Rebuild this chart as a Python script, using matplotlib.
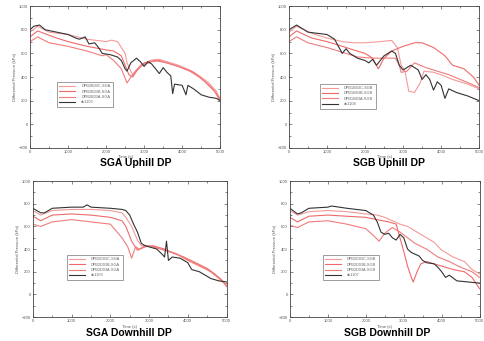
import numpy as np
import matplotlib.pyplot as plt
from matplotlib.ticker import MultipleLocator

plt.rcParams['font.family'] = ['Liberation Sans', 'DejaVu Sans']

# SGA Uphill DP
# ======================================================
ua_labels = ["DPB2B03C-SGA", "DPB2B03B-SGA", "DPB2B03A-SGA", "ds1103"]
ua_t1 = [0, 200, 500, 1000, 1500, 2000, 2150, 2300, 2400, 2500, 2550, 2650, 2700, 2900, 3200, 3400, 3600, 3900, 4200, 4500, 4700, 4900, 5000]
ua_v1 = [780, 830, 780, 760, 720, 700, 712, 700, 650, 600, 520, 450, 420, 500, 545, 550, 530, 500, 460, 400, 350, 280, 200]
ua_t2 = [0, 200, 700, 1000, 1500, 2000, 2200, 2400, 2500, 2600, 2700, 2800, 3000, 3300, 3600, 3900, 4300, 4600, 4850, 5000]
ua_v2 = [740, 790, 730, 700, 660, 630, 620, 580, 500, 420, 400, 450, 520, 540, 520, 490, 440, 360, 280, 200]
ua_t3 = [0, 200, 500, 1000, 1500, 1900, 2000, 2200, 2400, 2550, 2650, 2800, 2950, 3200, 3400, 3600, 3900, 4200, 4500, 4750, 5000]
ua_v3 = [700, 740, 690, 660, 620, 580, 590, 540, 470, 350, 400, 460, 500, 530, 540, 520, 490, 450, 390, 320, 220]
ua_t4 = [0, 100, 250, 400, 700, 1000, 1200, 1300, 1450, 1550, 1700, 1800, 1900, 2100, 2300, 2400, 2500, 2550, 2650, 2800, 2900, 3000, 3100, 3200, 3300, 3400, 3500, 3600, 3700, 3750, 3800, 4000, 4100, 4150, 4300, 4500, 4700, 4900, 5000]
ua_v4 = [800, 830, 840, 800, 780, 760, 730, 720, 740, 680, 690, 650, 600, 590, 570, 540, 470, 450, 520, 560, 530, 490, 530, 510, 470, 430, 480, 440, 410, 260, 340, 330, 250, 330, 300, 250, 230, 220, 200]

# SGB Uphill DP
# ======================================================
ub_labels = ["DPB1B03C-SGB", "DPB1B03B-SGB", "DPB1B03A-SGB", "ds1104"]
ub_t1 = [0, 200, 600, 1000, 1400, 1700, 2000, 2400, 2700, 2850, 2950, 3050, 3150, 3300, 3450, 3550, 3800, 4000, 4300, 4700, 5000]
ub_v1 = [780, 830, 770, 730, 700, 690, 690, 700, 710, 650, 500, 450, 280, 270, 350, 450, 440, 420, 380, 340, 300]
ub_t2 = [0, 200, 600, 1000, 1400, 1800, 2000, 2200, 2350, 2500, 2700, 3000, 3300, 3500, 3800, 4100, 4300, 4600, 4850, 5000]
ub_v2 = [740, 790, 730, 700, 660, 620, 600, 560, 470, 560, 620, 660, 690, 690, 650, 580, 500, 470, 400, 330]
ub_t3 = [0, 200, 500, 1000, 1400, 1800, 2200, 2600, 2800, 2900, 2950, 3100, 3300, 3600, 3900, 4200, 4500, 4800, 5000]
ub_v3 = [700, 740, 690, 650, 610, 570, 560, 560, 560, 500, 440, 450, 520, 480, 450, 420, 380, 340, 310]
ub_t4 = [0, 200, 500, 1000, 1200, 1300, 1400, 1500, 1600, 1800, 2000, 2100, 2200, 2300, 2500, 2700, 2800, 2900, 3000, 3200, 3400, 3500, 3600, 3700, 3800, 3900, 4000, 4100, 4200, 4400, 4700, 5000]
ub_v4 = [800, 840, 780, 760, 720, 660, 600, 640, 600, 560, 540, 520, 550, 500, 580, 620, 600, 500, 460, 500, 460, 380, 420, 380, 290, 360, 330, 220, 300, 270, 240, 200]

# SGA Downhill DP
# ======================================================
da_labels = ["DPB2D03C-SGA", "DPB2D03B-SGA", "DPB2D03A-SGA", "ds1103"]
da_t1 = [0, 200, 500, 1000, 1500, 2000, 2300, 2400, 2550, 2700, 2800, 3000, 3200, 3500, 3800, 4000, 4300, 4600, 4800, 5000]
da_v1 = [740, 700, 740, 750, 750, 740, 720, 680, 600, 480, 430, 430, 410, 380, 340, 300, 250, 200, 140, 80]
da_t2 = [0, 200, 500, 1000, 1500, 2000, 2300, 2400, 2550, 2700, 2900, 3100, 3400, 3600, 3900, 4200, 4500, 4700, 4900, 5000]
da_v2 = [690, 650, 700, 710, 700, 680, 650, 600, 470, 390, 420, 430, 400, 370, 330, 280, 230, 180, 120, 70]
da_t3 = [0, 200, 500, 1000, 1500, 2000, 2100, 2300, 2450, 2550, 2650, 2750, 2900, 3100, 3400, 3700, 3900, 4200, 4500, 4800, 5000]
da_v3 = [620, 600, 640, 660, 640, 620, 580, 500, 420, 320, 420, 400, 430, 420, 390, 360, 320, 270, 220, 150, 80]
da_t4 = [0, 200, 300, 500, 1000, 1300, 1400, 1500, 2000, 2300, 2400, 2500, 2600, 2700, 2800, 2900, 3000, 3200, 3350, 3400, 3450, 3500, 3600, 3800, 4000, 4100, 4300, 4600, 4800, 5000]
da_v4 = [760, 720, 720, 760, 770, 770, 790, 770, 760, 750, 740, 700, 620, 550, 450, 430, 420, 400, 350, 330, 470, 300, 330, 320, 280, 220, 200, 140, 120, 110]

# SGB Downhill DP
# ======================================================
db_labels = ["DPB2D03C-SGB", "DPB2D03B-SGB", "DPB2D03A-SGB", "ds1107"]
db_t1 = [0, 200, 500, 1000, 1500, 2000, 2300, 2500, 2700, 2900, 3100, 3300, 3500, 3800, 4000, 4300, 4600, 4800, 5000]
db_v1 = [740, 700, 730, 740, 730, 710, 700, 680, 650, 620, 600, 560, 520, 460, 390, 330, 290, 220, 180]
db_t2 = [0, 200, 500, 1000, 1500, 2000, 2300, 2600, 2800, 2900, 3000, 3100, 3200, 3250, 3350, 3450, 3600, 3800, 4000, 4300, 4600, 4800, 5000]
db_v2 = [680, 640, 690, 700, 690, 680, 660, 640, 620, 500, 380, 250, 150, 110, 200, 270, 290, 270, 250, 220, 200, 150, 50]
db_t3 = [0, 200, 500, 1000, 1500, 2000, 2200, 2350, 2500, 2700, 2900, 3100, 3300, 3600, 3900, 4200, 4500, 4800, 5000]
db_v3 = [610, 590, 640, 650, 620, 580, 520, 470, 540, 590, 550, 500, 450, 400, 330, 290, 240, 200, 150]
db_t4 = [0, 200, 300, 500, 1000, 1100, 1500, 2000, 2200, 2300, 2400, 2500, 2600, 2700, 2800, 2900, 3000, 3100, 3200, 3400, 3500, 3600, 3800, 3900, 4000, 4100, 4200, 4400, 4700, 5000]
db_v4 = [760, 710, 720, 760, 770, 780, 760, 740, 700, 640, 550, 530, 540, 500, 480, 530, 500, 400, 370, 340, 300, 280, 270, 240, 200, 150, 170, 120, 110, 100]

RED_COLORS = ["#f49a9a", "#ee6a6a", "#f07c7c"]
BLACK = "#333333"


def draw_panel(ax, series, labels, legend_xy):
    for i, (t, v) in enumerate(series):
        color = RED_COLORS[i] if i < 3 else BLACK
        ax.plot(t, v, color=color, lw=0.8, label=labels[i])
    ax.set_xlim(0, 5000)
    ax.set_ylim(-200, 1000)
    ax.xaxis.set_major_locator(MultipleLocator(1000))
    ax.xaxis.set_minor_locator(MultipleLocator(500))
    ax.yaxis.set_major_locator(MultipleLocator(200))
    ax.yaxis.set_minor_locator(MultipleLocator(100))
    ax.tick_params(which='both', direction='in', top=True, right=True,
                   labelsize=3, pad=1.5, width=0.5, colors='#555555')
    ax.tick_params(which='major', length=2.2)
    ax.tick_params(which='minor', length=1.2)
    for sp in ax.spines.values():
        sp.set_linewidth(0.6)
        sp.set_color('#444444')
    ax.set_xlabel("Time (s)", fontsize=3, labelpad=1, color='#555555')
    ax.set_ylabel("Differential Pressure (kPa)", fontsize=3, labelpad=1.5, color='#555555')
    leg = ax.legend(loc='upper left', bbox_to_anchor=legend_xy, bbox_transform=ax.figure.transFigure,
                    fontsize=2.8, frameon=True, fancybox=False, handlelength=4.0,
                    borderpad=0.6, labelspacing=0.35, handletextpad=1.6)
    leg.get_frame().set_edgecolor('#555555')
    leg.get_frame().set_linewidth(0.5)
    for txt in leg.get_texts():
        txt.set_color('#666666')


fig = plt.figure(figsize=(4.84, 3.41), dpi=100)

ax1 = fig.add_axes([0.062, 0.566, 0.393, 0.416])
ax2 = fig.add_axes([0.597, 0.566, 0.393, 0.416])
ax3 = fig.add_axes([0.068, 0.070, 0.400, 0.399])
ax4 = fig.add_axes([0.599, 0.070, 0.392, 0.399])

draw_panel(ax1, [(ua_t1, ua_v1), (ua_t2, ua_v2), (ua_t3, ua_v3), (ua_t4, ua_v4)], ua_labels, (0.114, 0.765))
draw_panel(ax2, [(ub_t1, ub_v1), (ub_t2, ub_v2), (ub_t3, ub_v3), (ub_t4, ub_v4)], ub_labels, (0.657, 0.760))
draw_panel(ax3, [(da_t1, da_v1), (da_t2, da_v2), (da_t3, da_v3), (da_t4, da_v4)], da_labels, (0.134, 0.258))
draw_panel(ax4, [(db_t1, db_v1), (db_t2, db_v2), (db_t3, db_v3), (db_t4, db_v4)], db_labels, (0.663, 0.258))

fig.text(0.281, 0.522, "SGA Uphill DP", ha='center', va='center', fontsize=7.5, fontweight='bold')
fig.text(0.804, 0.522, "SGB Uphill DP", ha='center', va='center', fontsize=7.5, fontweight='bold')
fig.text(0.267, 0.023, "SGA Downhill DP", ha='center', va='center', fontsize=7.5, fontweight='bold')
fig.text(0.800, 0.023, "SGB Downhill DP", ha='center', va='center', fontsize=7.5, fontweight='bold')

fig.savefig("out.png", dpi=100)
plt.close()
